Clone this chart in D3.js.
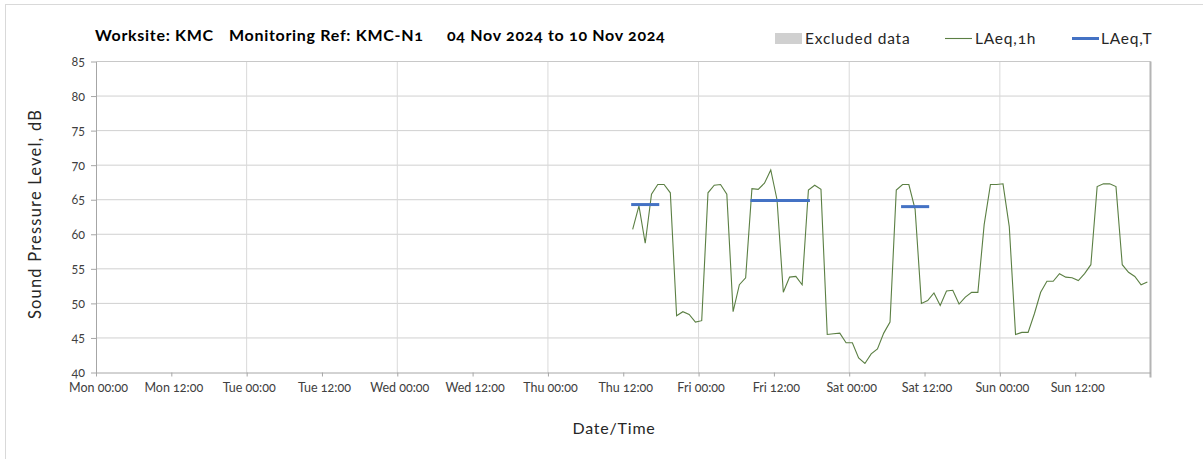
<!DOCTYPE html>
<html>
<head>
<meta charset="utf-8">
<script src="https://cdn.jsdelivr.net/npm/d3@7"></script>
<style>
  body { margin: 0; background: #fff; }
  svg text { font-family: Lato, "Open Sans", sans-serif; font-variant-numeric: oldstyle-nums; }
</style>
</head>
<body>
<div id="chart"></div>
<script>
// hourly LAeq,1h readings, first reading Thu 07 Nov 13:30
var firstReading = new Date(2024, 10, 7, 13, 30);
var laeq1h = [60.7, 64.1, 58.7, 65.8, 67.2, 67.2, 66.0, 48.2, 48.8, 48.4, 47.3, 47.5,
  66.0, 67.1, 67.2, 65.8, 48.8, 52.7, 53.7, 66.6, 66.5, 67.4, 69.3, 65.0,
  51.6, 53.8, 53.9, 52.7, 66.4, 67.1, 66.5, 45.5, 45.6, 45.7, 44.3, 44.3,
  42.1, 41.3, 42.7, 43.4, 45.7, 47.3, 66.4, 67.2, 67.2, 63.6, 50.0, 50.4,
  51.5, 49.7, 51.8, 51.9, 49.9, 50.9, 51.6, 51.6, 61.4, 67.2, 67.2, 67.3,
  61.1, 45.5, 45.8, 45.8, 48.5, 51.6, 53.2, 53.2, 54.3, 53.8, 53.7, 53.3,
  54.3, 55.6, 66.9, 67.3, 67.3, 66.9, 55.6, 54.5, 53.9, 52.7, 53.1];

// LAeq,T periods
var periodStart = [new Date(2024, 10, 7, 13, 30), new Date(2024, 10, 8, 8, 30), new Date(2024, 10, 9, 8, 30)];
var periodEnd   = [new Date(2024, 10, 7, 17, 30), new Date(2024, 10, 8, 17, 30), new Date(2024, 10, 9, 12, 30)];
var laeqT = [64.3, 64.9, 64.0];

var yTicks = [40, 45, 50, 55, 60, 65, 70, 75, 80, 85];
var legendItems = ["Excluded data", "LAeq,1h", "LAeq,T"];

var width = 1203, height = 459,
  plot = {left: 96, right: 1150.5, top: 61.5, bottom: 372.5};

var svg = d3.select("#chart").append("svg")
  .attr("width", width)
  .attr("height", height);

// outer border (only top and left show)
svg.append("rect")
  .attr("x", 5.5).attr("y", 4.5)
  .attr("width", width + 10).attr("height", height + 10)
  .attr("fill", "none").attr("stroke", "#d9d9d9");

var x = d3.scaleTime()
  .domain([new Date(2024, 10, 4), new Date(2024, 10, 11)])
  .range([plot.left, plot.right]);

var y = d3.scaleLinear().domain([40, 85]).range([plot.bottom, plot.top]);

var readings = laeq1h.map((v, i) => ({t: d3.timeHour.offset(firstReading, i), v: v}));

// gridlines
svg.append("g").selectAll("line")
  .data(yTicks.slice(1))
  .enter().append("line")
  .attr("x1", plot.left).attr("x2", plot.right)
  .attr("y1", d => y(d)).attr("y2", d => y(d))
  .attr("stroke", "#d0d0d0");

svg.append("g").selectAll("line")
  .data(d3.timeDay.range(d3.timeDay.offset(x.domain()[0], 1), x.domain()[1]))
  .enter().append("line")
  .attr("x1", d => x(d)).attr("x2", d => x(d))
  .attr("y1", plot.top).attr("y2", plot.bottom)
  .attr("stroke", "#d9d9d9");

// plot frame top/right
svg.append("line")
  .attr("x1", plot.left).attr("x2", plot.right)
  .attr("y1", plot.top).attr("y2", plot.top)
  .attr("stroke", "#c8c8c8");
svg.append("line")
  .attr("x1", plot.right).attr("x2", plot.right)
  .attr("y1", plot.top).attr("y2", plot.bottom + 5)
  .attr("stroke", "#b4b4b4").attr("stroke-width", 2);

// axes
var xAxis = d3.axisBottom(x)
  .tickValues(d3.timeHour.every(12).range(x.domain()[0], x.domain()[1]))
  .tickFormat(d3.timeFormat("%a %H:%M"))
  .tickSize(4).tickSizeOuter(0).tickPadding(7);

var gx = svg.append("g")
  .attr("transform", `translate(0,${plot.bottom})`)
  .call(xAxis);
gx.select(".domain").attr("stroke", "#a6a6a6");
gx.selectAll(".tick line").attr("stroke", "#a6a6a6");
gx.selectAll(".tick text")
  .attr("fill", "#404040").attr("font-size", 12.5)
  .attr("dx", 2);

var yAxis = d3.axisLeft(y).tickValues(yTicks).tickSize(5).tickSizeOuter(0).tickPadding(6);
var gy = svg.append("g")
  .attr("transform", `translate(${plot.left},0)`)
  .call(yAxis);
gy.select(".domain").attr("stroke", "#a6a6a6");
gy.selectAll(".tick line").attr("stroke", "#a6a6a6");
gy.selectAll(".tick text").attr("fill", "#404040").attr("font-size", 12.5);

// LAeq,1h line
var line = d3.line().x(d => x(d.t)).y(d => y(d.v));
svg.append("path")
  .datum(readings)
  .attr("d", line)
  .attr("fill", "none")
  .attr("stroke", "#5b7f43")
  .attr("stroke-width", 1.1);

// LAeq,T bars
svg.append("g").selectAll("line")
  .data(laeqT)
  .enter().append("line")
  .attr("x1", (d, i) => x(periodStart[i]))
  .attr("x2", (d, i) => x(periodEnd[i]))
  .attr("y1", d => y(d)).attr("y2", d => y(d))
  .attr("stroke", "#4472c4")
  .attr("stroke-width", 3)
  .attr("stroke-linecap", "square");

// title
var titleParts = [["Worksite: KMC", 95], ["Monitoring Ref: KMC-N1", 229], ["04 Nov 2024 to 10 Nov 2024", 447]];
svg.append("g").selectAll("text")
  .data(titleParts)
  .enter().append("text")
  .attr("x", d => d[1]).attr("y", 41)
  .attr("font-size", 16).attr("font-weight", "bold").attr("fill", "#000")
  .attr("letter-spacing", 0.7)
  .text(d => d[0]);

// axis titles
svg.append("text")
  .attr("transform", "translate(41,214) rotate(-90)")
  .attr("text-anchor", "middle")
  .attr("font-size", 16.5).attr("fill", "#262626")
  .attr("letter-spacing", 1.2)
  .text("Sound Pressure Level, dB");

svg.append("text")
  .attr("x", 614).attr("y", 434)
  .attr("text-anchor", "middle")
  .attr("font-size", 16).attr("fill", "#262626")
  .attr("letter-spacing", 0.8)
  .text("Date/Time");

// legend
var legend = svg.append("g");
legend.append("rect")
  .attr("x", 775).attr("y", 33).attr("width", 27).attr("height", 11)
  .attr("fill", "#d0d0d0");
legend.append("line")
  .attr("x1", 945).attr("x2", 972).attr("y1", 38.5).attr("y2", 38.5)
  .attr("stroke", "#5b7f43").attr("stroke-width", 1.1);
legend.append("line")
  .attr("x1", 1072).attr("x2", 1099).attr("y1", 38.5).attr("y2", 38.5)
  .attr("stroke", "#4472c4").attr("stroke-width", 3);
legend.selectAll("text")
  .data(legendItems)
  .enter().append("text")
  .attr("x", (d, i) => [805, 975, 1101][i])
  .attr("y", 44)
  .attr("font-size", 15.5).attr("fill", "#262626")
  .attr("letter-spacing", 0.8)
  .text(d => d);
</script>
</body>
</html>
